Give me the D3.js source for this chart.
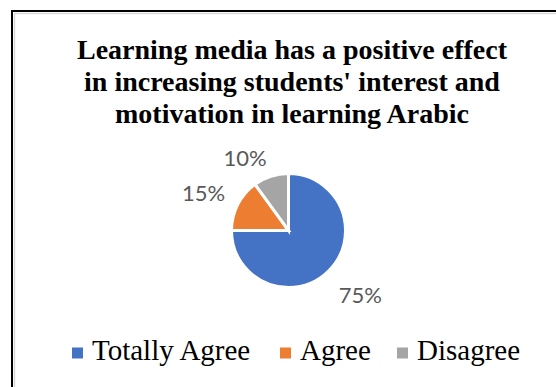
<!DOCTYPE html>
<html>
<head>
<meta charset="utf-8">
<script src="https://cdn.jsdelivr.net/npm/d3@7"></script>
<style>
  body { margin: 0; background: #fff; }
  svg { display: block; }
</style>
</head>
<body>
<script>
// data
var categories = ["Totally Agree", "Agree", "Disagree"];
var values = [75, 15, 10];
var colors = ["#4472C4", "#ED7D31", "#A5A5A5"];
var titleLines = ["Learning media has a positive effect",
                  "in increasing students' interest and",
                  "motivation in learning Arabic"];

var width = 556, height = 387;
var cx = 288.5, cy = 230.5, radius = 57;

var svg = d3.select('body').append('svg')
        .attr('width', width)
        .attr('height', height);

// chart frame (runs off the right and bottom edges)
svg.append('rect')
        .attr('x', 12).attr('y', 11)
        .attr('width', 600).attr('height', 450)
        .style('fill', 'none')
        .attr('stroke', '#000')
        .attr('stroke-width', 2);
svg.append('rect')
        .attr('x', 14.5).attr('y', 13.5)
        .attr('width', 600).attr('height', 450)
        .style('fill', 'none')
        .attr('stroke', '#d9d9d9')
        .attr('stroke-width', 1.5);

// title
svg.append('text')
        .attr('text-anchor', 'middle')
        .style('font-family', '"Liberation Serif", "Times New Roman", serif')
        .style('font-weight', 'bold')
        .style('font-size', '28px')
        .style('fill', '#000')
        .selectAll('tspan')
        .data(titleLines)
        .enter().append('tspan')
        .attr('x', 292)
        .attr('y', function(d, i) { return 59 + i * 32; })
        .text(function(d) { return d; });

// pie
var pie = d3.pie().sort(null).value(function(d) { return d; });
var arcs = pie(values);
var arc = d3.arc().innerRadius(0).outerRadius(radius);

var g = svg.append('g').attr('transform', 'translate(' + cx + ',' + cy + ')');

g.selectAll('path')
        .data(arcs)
        .enter().append('path')
        .attr('d', arc)
        .style('fill', function(d, i) { return colors[i]; })
        .attr('stroke', '#fff')
        .attr('stroke-width', 3)
        .attr('stroke-linejoin', 'miter');

// outside-end labels
var labelArc = d3.arc().innerRadius(radius + 14).outerRadius(radius + 14);
var labels = g.selectAll('text.lbl')
        .data(arcs)
        .enter().append('text')
        .attr('class', 'lbl')
        .attr('text-anchor', 'middle')
        .attr('dominant-baseline', 'central')
        .style('font-family', 'Lato, "Open Sans", sans-serif')
        .style('font-size', '22px')
        .style('fill', '#595959')
        .text(function(d) { return d.data + '%'; });

labels.attr('transform', function(d) {
        var p = labelArc.centroid(d);
        var b = this.getBBox();
        var x = p[0] + Math.sign(p[0]) * b.width / 2;
        var y = p[1] + Math.sign(p[1]) * b.height * 0.35 + 4;
        return 'translate(' + x + ',' + y + ')';
});

// legend
var legendX = [72, 280, 397];
var legend = svg.append('g').selectAll('g')
        .data(categories)
        .enter().append('g')
        .attr('transform', function(d, i) { return 'translate(' + legendX[i] + ',353)'; });

legend.append('rect')
        .attr('x', 0).attr('y', -5.5)
        .attr('width', 11).attr('height', 11)
        .style('fill', function(d, i) { return colors[i]; });

legend.append('text')
        .attr('x', 20)
        .attr('y', 7)
        .style('font-family', '"Liberation Serif", "Times New Roman", serif')
        .style('font-size', '29px')
        .style('fill', '#000')
        .text(function(d) { return d; });
</script>
</body>
</html>
